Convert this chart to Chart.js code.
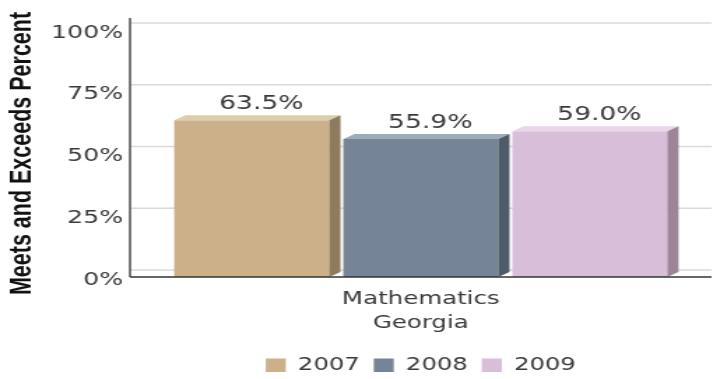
<!DOCTYPE html>
<html lang="en">
<head>
<meta charset="UTF-8">
<title>Meets and Exceeds Percent</title>
<script src="https://cdn.jsdelivr.net/npm/chart.js"></script>
<style>
  html, body { margin: 0; padding: 0; overflow: hidden; background: #fff; }
  /* the chart is drawn narrow and widened, like the old report image */
  #mychart { display: block; transform: scaleX(1.398); transform-origin: 0 0; }
</style>
</head>
<body>
<canvas id="mychart" width="510" height="384"></canvas>
<script>
const years = ['2007', '2008', '2009'];
const scores = [63.5, 55.9, 59.0];
const subject = ['Mathematics', 'Georgia'];
const yTicks = [0, 25, 50, 75, 100];

const frontColors = ['#cbb08a', '#758597', '#d8bed8'];
const topColors = ['#dfccab', '#9eacb9', '#e9d7e9'];
const sideColors = ['#8e7a5c', '#4e5b68', '#9d8499'];

const depthX = 8, depthY = 5, wallY = 7;

// back wall grid, bar tops/sides, value labels and the axis lines
const box3d = {
    id: 'box3d',
    beforeDatasetsDraw(chart) {
        const {ctx, chartArea: a, scales: {y}} = chart;
        ctx.save();
        ctx.strokeStyle = '#dadada';
        ctx.lineWidth = 1.5;
        yTicks.forEach(v => {
            const py = y.getPixelForValue(v) - wallY;
            ctx.beginPath();
            ctx.moveTo(a.left, py);
            ctx.lineTo(a.right, py);
            ctx.stroke();
        });
        ctx.restore();
    },
    afterDatasetsDraw(chart) {
        const {ctx, chartArea: a} = chart;
        ctx.save();
        chart.data.datasets.forEach((ds, i) => {
            chart.getDatasetMeta(i).data.forEach((bar, j) => {
                const {x, y, base, width} = bar.getProps(['x', 'y', 'base', 'width'], true);
                const l = x - width / 2, r = x + width / 2;

                ctx.fillStyle = topColors[i];
                ctx.beginPath();
                ctx.moveTo(l, y);
                ctx.lineTo(l + depthX, y - depthY);
                ctx.lineTo(r + depthX, y - depthY);
                ctx.lineTo(r, y);
                ctx.closePath();
                ctx.fill();

                ctx.fillStyle = sideColors[i];
                ctx.beginPath();
                ctx.moveTo(r, y);
                ctx.lineTo(r + depthX, y - depthY);
                ctx.lineTo(r + depthX, base - depthY);
                ctx.lineTo(r, base);
                ctx.closePath();
                ctx.fill();

                ctx.fillStyle = '#3a3a3a';
                ctx.font = '19px "DejaVu Sans"';
                ctx.textAlign = 'center';
                ctx.textBaseline = 'middle';
                ctx.fillText(ds.data[j].toFixed(1) + '%', x + 6.8, y - 16);
            });
        });

        ctx.strokeStyle = '#555';
        ctx.lineWidth = 1.6;
        ctx.beginPath();
        ctx.moveTo(a.left, a.top - wallY - 5);
        ctx.lineTo(a.left, a.bottom);
        ctx.stroke();
        ctx.strokeStyle = '#333';
        ctx.beginPath();
        ctx.moveTo(a.left, a.bottom);
        ctx.lineTo(a.right, a.bottom);
        ctx.stroke();
        ctx.restore();
    }
};

const chart = new Chart(document.getElementById('mychart'), {
    type: 'bar',
    data: {
        labels: [subject],
        datasets: years.map((yr, i) => ({
            label: yr,
            data: [scores[i]],
            backgroundColor: frontColors[i],
            borderWidth: 0,
            categoryPercentage: 0.872,
            barPercentage: 0.917
        }))
    },
    options: {
        responsive: false,
        animation: false,
        devicePixelRatio: 1,
        layout: { padding: { top: 30, right: 1, left: 0, bottom: 0 } },
        scales: {
            x: {
                grid: { display: false, drawTicks: false },
                border: { display: false },
                ticks: {
                    padding: 10,
                    color: '#3a3a3a',
                    font: { family: 'DejaVu Sans', size: 17.5, lineHeight: 1.37 }
                },
                afterFit(scale) { scale.height = 69.6; }
            },
            y: {
                min: 0,
                max: 100,
                grid: { display: false, drawTicks: false },
                border: { display: false },
                afterBuildTicks(scale) { scale.ticks = yTicks.map(v => ({value: v})); },
                ticks: {
                    padding: 5,
                    labelOffset: 3,
                    color: '#3a3a3a',
                    font: { family: 'DejaVu Sans', size: 18 },
                    callback: v => v + '%'
                },
                title: {
                    display: true,
                    text: 'Meets and Exceeds Percent',
                    color: '#111',
                    padding: { top: 3.6, bottom: 0 },
                    font: { family: 'Liberation Sans', size: 21.5, weight: 'bold' }
                },
                afterFit(scale) { scale.width = 93; }
            }
        },
        plugins: {
            tooltip: { enabled: false },
            legend: {
                position: 'bottom',
                fullSize: false,
                labels: {
                    boxWidth: 14.3,
                    boxHeight: 13.5,
                    padding: 10,
                    color: '#3a3a3a',
                    font: { family: 'DejaVu Sans', size: 17.4 }
                }
            }
        }
    },
    plugins: [box3d]
});
</script>
</body>
</html>
